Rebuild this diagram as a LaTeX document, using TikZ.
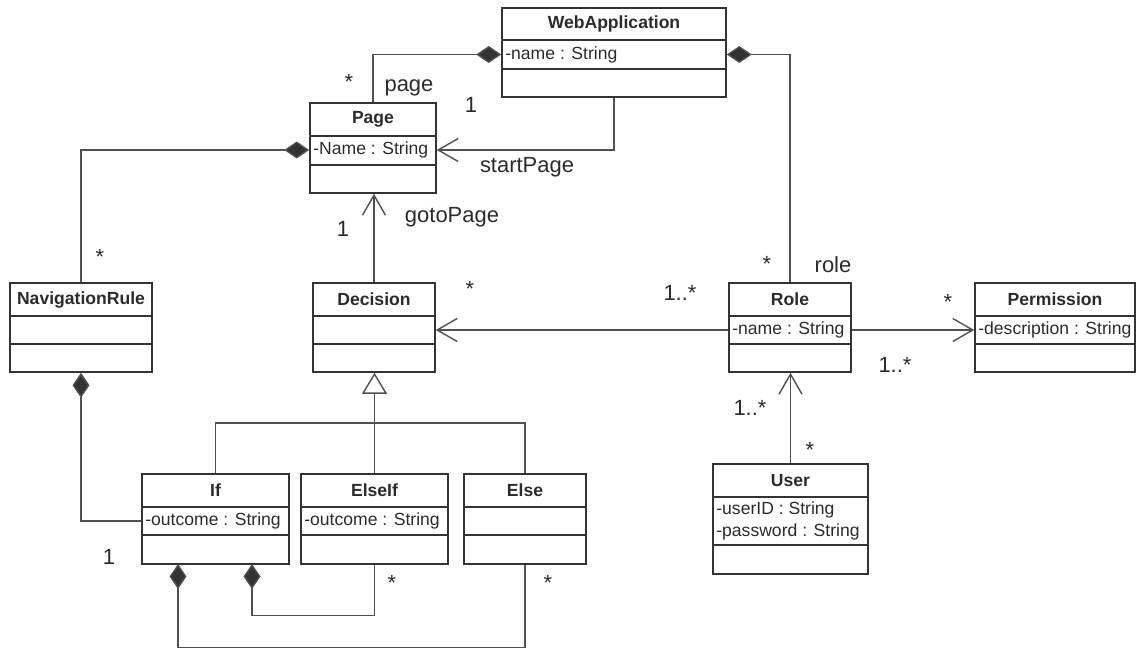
\documentclass[tikz,border=0pt]{standalone}
\usepackage{fontspec}
\setmainfont{Liberation Sans}
\usetikzlibrary{arrows.meta, fit}

\definecolor{umlline}{HTML}{333333}
\definecolor{umlconn}{HTML}{505050}
\definecolor{umltext}{HTML}{2B2B2B}

% class box: name, title, left, top, right, bottom, first divider, second divider
\newcommand{\umlclass}[8]{%
  \node[classbox, fit={(#3,#4) (#5,#6)}] (#1) {};
  \draw[boxline] (#3,#7) -- (#5,#7);
  \draw[boxline] (#3,#8) -- (#5,#8);
  \node[classname] (#1-title) at ({(#3+#5)/2},{(#4+#7)/2}) {#2};
}

\begin{document}
\begin{tikzpicture}[x=0.02cm, y=-0.02cm,
  boxline/.style={draw=umlline, line width=0.9pt},
  classbox/.style={boxline, inner sep=0pt},
  classname/.style={font=\fontsize{10}{12}\selectfont\bfseries, text=umltext},
  attr/.style={font=\fontsize{10}{12.5}\selectfont, text=umltext, anchor=west, inner sep=0pt, align=left},
  lbl/.style={font=\fontsize{12.5}{15}\selectfont, text=umltext, inner sep=0pt},
  assoc/.style={draw=umlconn, line width=0.8pt},
  navig/.style={assoc, -{Straight Barb[length=0.4cm, width=0.46cm, line width=0.8pt]}},
  compose/.style={assoc, -{Diamond[length=0.5cm, width=0.34cm, fill=umlline]}},
  inherit/.style={assoc, -{Triangle[open, length=0.42cm, width=0.5cm, fill=white]}}]
  \useasboundingbox (0,0) rectangle (1137,649);

  % classes
  \umlclass{webapp}{WebApplication}{502}{8}{726}{97}{40}{69}
  \umlclass{page}{Page}{310}{103}{436}{193}{136}{165}
  \umlclass{navrule}{NavigationRule}{10}{283}{152}{372}{316}{344}
  \umlclass{decision}{Decision}{313}{283}{435}{372}{316}{344}
  \umlclass{role}{Role}{729}{283}{851}{372}{316}{344}
  \umlclass{permission}{Permission}{975}{283}{1135}{372}{316}{344}
  \umlclass{if}{If}{142}{474}{289}{564}{507}{535}
  \umlclass{elseif}{ElseIf}{301}{474}{448}{564}{507}{535}
  \umlclass{else}{Else}{464}{474}{586}{564}{507}{535}
  \umlclass{user}{User}{713}{464}{868}{574}{497}{545}

  % attributes
  \node[attr] (webapp-attr) at (505,54.5) {-name : String};
  \node[attr] (page-attr) at (313,150) {-Name : String};
  \node[attr] (role-attr) at (732,330) {-name : String};
  \node[attr] (permission-attr) at (978,330) {-description : String};
  \node[attr] (if-attr) at (145,521) {-outcome : String};
  \node[attr] (elseif-attr) at (304,521) {-outcome : String};
  \node[attr] (user-attr) at (716,521) {-userID : String\\-password : String};

  % associations
  \draw[compose] (page.north) |- (webapp.west |- webapp-attr.west);
  \draw[navig] (webapp.south) |- (page.east |- page-attr.west);
  \draw[compose] (role.north) |- (webapp.east |- webapp-attr.west);
  \draw[compose] (navrule.north) |- (page.west |- page-attr.west);
  \draw[navig] (decision.north) -- (decision.north |- page.south);
  \draw[navig] (role.west |- role-attr.west) -- (decision.east |- role-attr.west);
  \draw[navig] (role.east |- role-attr.west) -- (permission.west |- role-attr.west);
  \draw[navig] (user.north) -- (user.north |- role.south);

  % generalization
  \coordinate (genbus) at (374,423);
  \draw[inherit] (elseif.north) -- (elseif.north |- decision.south);
  \draw[assoc] (if.north) |- (genbus) -| (else.north);

  % compositions at the bottom
  \coordinate (if-dia1) at (178,564);
  \coordinate (if-dia2) at (252,564);
  \draw[compose] (if.west |- if-attr.west) -| (navrule.south);
  \draw[compose] (elseif.south) -- ++(0,51) -| (if-dia2);
  \draw[compose] (else.south) -- ++(0,83) -| (if-dia1);

  % roles and multiplicities
  \node[lbl] (m-page) at (349,82) {*};
  \node[lbl] (r-page) at (409,88) {page};
  \node[lbl] (m-start) at (471,105) {1};
  \node[lbl] (r-start) at (527,167) {startPage};
  \node[lbl] (m-goto) at (343,229) {1};
  \node[lbl] (r-goto) at (452,217) {gotoPage};
  \node[lbl] (m-nav) at (100,257) {*};
  \node[lbl] (m-dec) at (470,289) {*};
  \node[lbl] (m-dec2) at (680,293) {1..*};
  \node[lbl] (m-role) at (767,264) {*};
  \node[lbl] (r-role) at (833,265) {role};
  \node[lbl] (m-perm) at (948,302) {*};
  \node[lbl] (m-perm2) at (895,365) {1..*};
  \node[lbl] (m-user) at (750,408) {1..*};
  \node[lbl] (m-user2) at (810,450) {*};
  \node[lbl] (m-if) at (109,557) {1};
  \node[lbl] (m-elseif) at (392,583) {*};
  \node[lbl] (m-else) at (548,583) {*};
\end{tikzpicture}
\end{document}
